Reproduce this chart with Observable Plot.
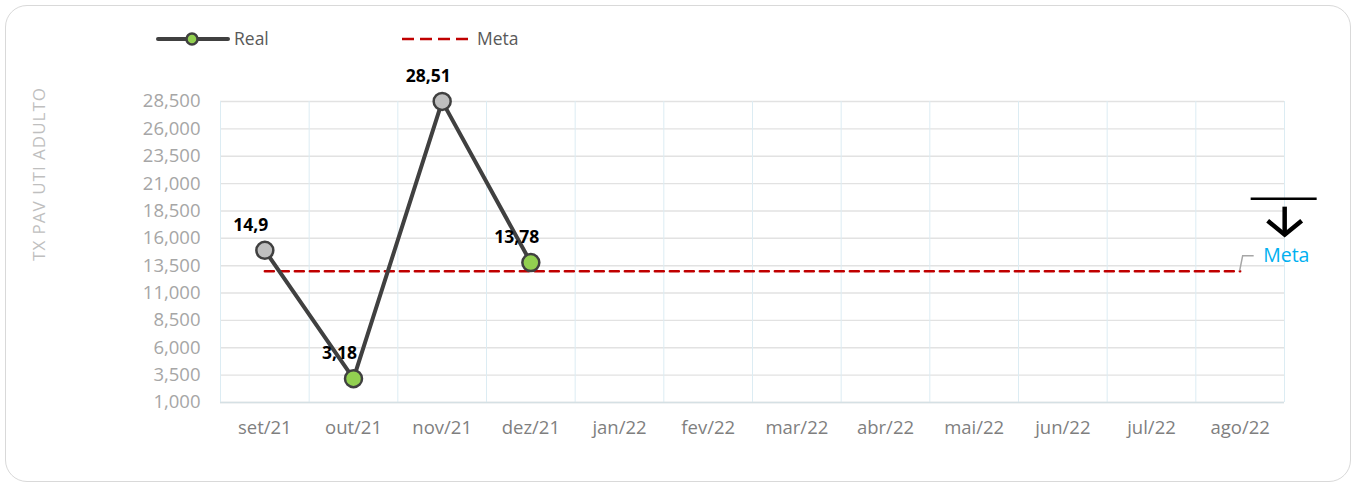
<!DOCTYPE html>
<html>
<head>
<meta charset="utf-8">
<script src="https://cdn.jsdelivr.net/npm/d3@7"></script>
<script src="https://cdn.jsdelivr.net/npm/@observablehq/plot@0.6"></script>
<style>
  html, body { margin: 0; padding: 0; background: #fff; }
  #wrap { position: relative; width: 1358px; height: 487px; overflow: hidden; font-family: "Open Sans", sans-serif; }
  #card { position: absolute; left: 5px; top: 5px; width: 1344px; height: 475px; border: 1.5px solid #d9d9d9; border-radius: 22px; box-sizing: content-box; }
  #chart { position: absolute; left: 0; top: 0; }
  #overlay { position: absolute; left: 0; top: 0; pointer-events: none; }
</style>
</head>
<body>
<div id="wrap">
  <div id="card"></div>
  <div id="chart"></div>
  <svg id="overlay" width="1358" height="487"></svg>
</div>
<script>
// ---- data ----
const months = ["set/21", "out/21", "nov/21", "dez/21", "jan/22", "fev/22", "mar/22", "abr/22", "mai/22", "jun/22", "jul/22", "ago/22"];
const realValues = [14.9, 3.18, 28.51, 13.78];
const metaValues = [13, 13, 13, 13, 13, 13, 13, 13, 13, 13, 13, 13];
const yTicks = [1, 3.5, 6, 8.5, 11, 13.5, 16, 18.5, 21, 23.5, 26, 28.5];
const yTitle = "TX PAV UTI ADULTO";
const seriesNames = ["Real", "Meta"];

// ---- tables ----
// marker colour: green when the rate fell versus the previous month (lower is better), grey otherwise
const realData = realValues.map((v, i) => ({month: months[i], value: v, improved: i > 0 && v < realValues[i - 1]}));
const metaData = metaValues.map((v, i) => ({month: months[i], value: v}));

// ---- layout ----
const W = 1358, H = 487, mL = 220, mR = 74, mT = 101, mB = 85;
const step = (W - mL - mR) / months.length;
const fmtComma = d => String(d).replace(".", ",");
const font = "'Open Sans', sans-serif";

const plot = Plot.plot({
  width: W, height: H,
  marginLeft: mL, marginRight: mR, marginTop: mT, marginBottom: mB,
  style: {fontFamily: font, background: "transparent", overflow: "visible"},
  x: {type: "point", domain: months, padding: 0.5, round: false, label: null},
  y: {domain: [1, 28.5], label: null},
  marks: [
    Plot.ruleY(yTicks, {stroke: "#e2e2e2", strokeWidth: 1.4}),
    Plot.ruleX(months, {dx: -step / 2, stroke: "#dcecf3", strokeWidth: 1}),
    Plot.ruleX([months[months.length - 1]], {dx: step / 2, stroke: "#dcecf3", strokeWidth: 1}),
    Plot.ruleY([yTicks[0]], {stroke: "#d5e0e4", strokeWidth: 1.5}),
    Plot.axisY({ticks: yTicks, tickSize: 0, tickPadding: 20, tickFormat: d => d.toFixed(3).replace(".", ","), fontSize: 18.5, color: "#a6a6a6", label: null}),
    Plot.axisX({tickSize: 0, tickPadding: 18, fontSize: 18.5, color: "#7f7f7f", label: null}),
    Plot.line(metaData, {x: "month", y: "value", stroke: "#C00000", strokeWidth: 2.5, strokeDasharray: "9,6"}),
    Plot.line(realData, {x: "month", y: "value", stroke: "#404040", strokeWidth: 4}),
    Plot.dot(realData, {x: "month", y: "value", r: 8.5, fill: d => d.improved ? "#92D050" : "#BFBFBF", stroke: "#404040", strokeWidth: 2.5}),
    Plot.text(realData, {x: "month", y: "value", text: d => fmtComma(d.value), dx: -14, dy: -25, fontWeight: "bold", fontSize: 17.5, fill: "#000"}),
    Plot.text([metaData[metaData.length - 1]], {x: "month", y: "value", text: () => seriesNames[1], dx: 23, dy: -15, textAnchor: "start", fill: "#00B0F0", fontSize: 19.5})
  ]
});
document.getElementById("chart").appendChild(plot);

// ---- overlay: legend, axis title, annotation shapes anchored to scales ----
const ov = d3.select("#overlay");
const sx = plot.scale("x"), sy = plot.scale("y");
const lx = sx.apply(months[months.length - 1]);
const ly = sy.apply(metaValues[metaValues.length - 1]);

// leader line to "Meta" label
ov.append("path").attr("d", `M${lx},${ly} L${lx + 3},${ly - 15} L${lx + 14},${ly - 15}`)
  .attr("fill", "none").attr("stroke", "#a6a6a6").attr("stroke-width", 1.5);
// "lower is better" arrow
ov.append("line").attr("x1", lx + 11).attr("x2", lx + 77).attr("y1", ly - 72).attr("y2", ly - 72)
  .attr("stroke", "#000").attr("stroke-width", 2.5);
ov.append("line").attr("x1", lx + 45).attr("x2", lx + 45).attr("y1", ly - 64).attr("y2", ly - 37)
  .attr("stroke", "#000").attr("stroke-width", 4.5);
ov.append("path").attr("d", `M${lx + 28},${ly - 50} L${lx + 45},${ly - 36} L${lx + 62},${ly - 50}`)
  .attr("fill", "none").attr("stroke", "#000").attr("stroke-width", 4.5);

// y-axis title
ov.append("text").attr("transform", "translate(45,174) rotate(-90)")
  .attr("text-anchor", "middle").attr("font-family", font).attr("font-size", 17)
  .attr("letter-spacing", 1)
  .attr("fill", "#bfbfbf").text(yTitle);

// legend
const lg = ov.append("g").attr("font-family", font).attr("font-size", 17.5).attr("fill", "#595959");
lg.append("line").attr("x1", 158).attr("x2", 228).attr("y1", 39).attr("y2", 39)
  .attr("stroke", "#404040").attr("stroke-width", 4).attr("stroke-linecap", "round");
lg.append("circle").attr("cx", 192).attr("cy", 39).attr("r", 5.5)
  .attr("fill", "#92D050").attr("stroke", "#404040").attr("stroke-width", 2.5);
lg.append("text").attr("x", 234).attr("y", 39).attr("dy", "0.35em").text(seriesNames[0]);
lg.append("line").attr("x1", 402).attr("x2", 468).attr("y1", 39).attr("y2", 39)
  .attr("stroke", "#C00000").attr("stroke-width", 2.5).attr("stroke-dasharray", "12,6");
lg.append("text").attr("x", 477).attr("y", 39).attr("dy", "0.35em").text(seriesNames[1]);
</script>
</body>
</html>
